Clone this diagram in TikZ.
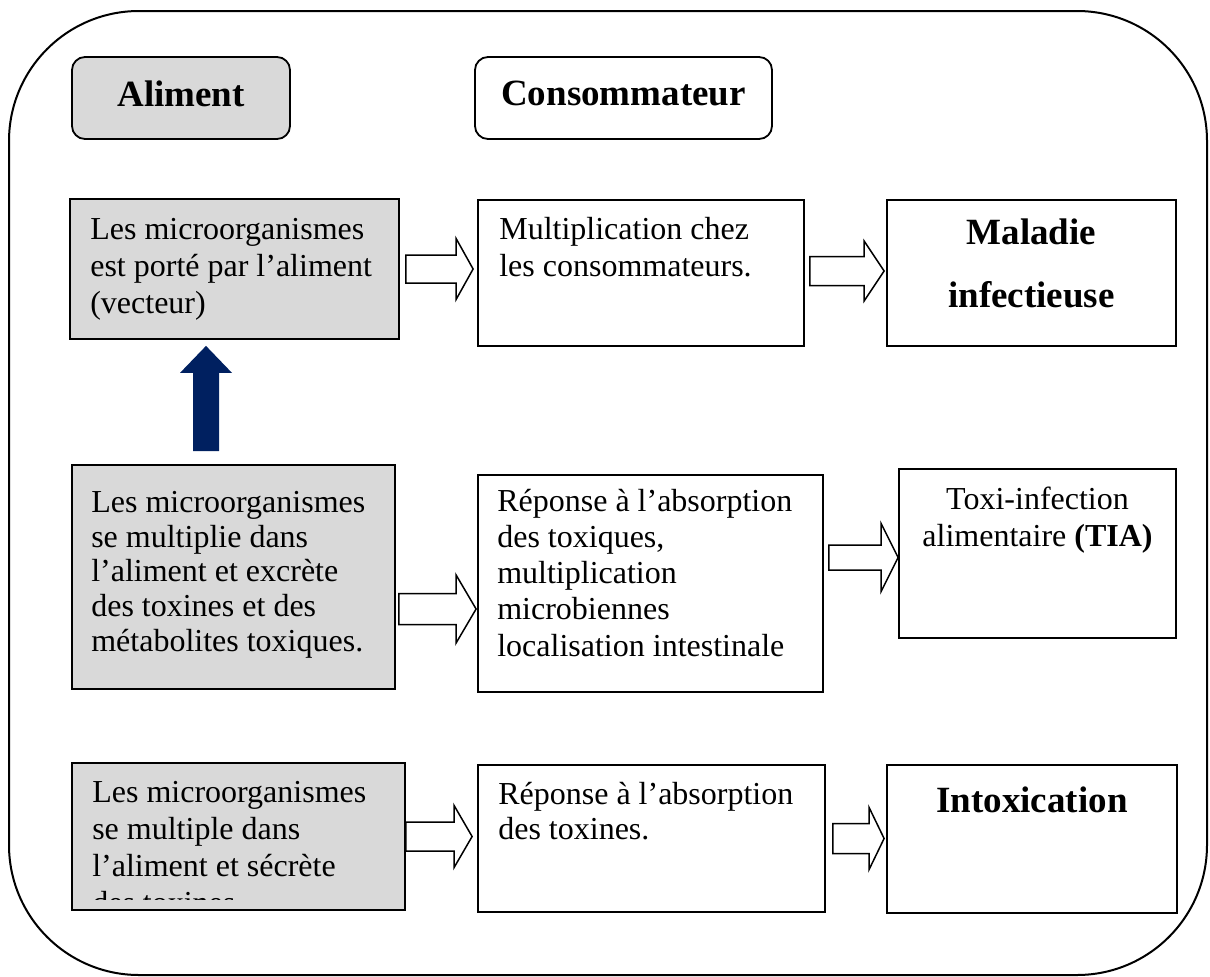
\documentclass[tikz,border=0pt]{standalone}
\usepackage{fontspec}
\setmainfont{Liberation Serif}
\usetikzlibrary{calc}
\definecolor{boxgray}{HTML}{D9D9D9}
\definecolor{navyblue}{HTML}{002060}
\newcommand{\fl}{\rule{0pt}{24pt}}
\newcommand{\blockarrow}[8]{%
  \draw[blockarr] let \p1=($(#1.east)+(#3,#5)$), \p2=($(#2.west)+(-#4,0)$) in
    (\x1,\y1+#6) -- (\x2-#8,\y1+#6) -- (\x2-#8,\y1+#7) -- (\x2,\y1)
    -- (\x2-#8,\y1-#7) -- (\x2-#8,\y1-#6) -- (\x1,\y1-#6) -- cycle;}
\begin{document}
\begin{tikzpicture}[x=1pt,y=-1pt,
  plainbox/.style={draw=black, line width=1.8pt, fill=white, inner sep=0pt, minimum width=#1},
  graybox/.style={plainbox=#1, fill=boxgray},
  headbox/.style={draw=black, line width=1.8pt, rounded corners=13pt, inner sep=0pt,
     minimum width=#1, minimum height=82pt, font=\bfseries\fontsize{37}{40}\selectfont},
  txt/.style={font=\fontsize{32}{37}\selectfont, align=left, inner sep=0pt, anchor=north west},
  bigtxt/.style={font=\bfseries\fontsize{37}{63}\selectfont, align=center, inner sep=0pt},
  blockarr/.style={draw=black, line width=1.5pt, fill=white, line join=miter},
  outer/.style={draw=black, line width=2pt, rounded corners=130pt}
]
\useasboundingbox (0,0) rectangle (1210,977);
\draw[outer] (9,11) rectangle (1207,975);

% header boxes
\node[headbox=218, fill=boxgray, text height=25pt, text depth=9pt] (aliment) at (181,98) {Aliment};
\node[headbox=297, fill=white, text height=25pt, text depth=11pt] (conso) at (623.5,98) {Consommateur};

% row 1
\node[graybox=329, minimum height=140] (a1) at (234.5,269) {};
\node[plainbox=326, minimum height=146] (b1) at (641,273) {};
\node[plainbox=289, minimum height=146] (c1) at (1031.5,273) {};
% row 2
\node[graybox=323, minimum height=224] (a2) at (233.5,577) {};
\node[plainbox=345, minimum height=217] (b2) at (650.5,583.5) {};
\node[plainbox=277, minimum height=169] (c2) at (1037.5,553.5) {};
% row 3
\node[graybox=333, minimum height=147] (a3) at (238.5,836.5) {};
\node[plainbox=347, minimum height=147] (b3) at (651.5,838.5) {};
\node[plainbox=290, minimum height=148] (c3) at (1032,839) {};

% texts
\node[txt] (ta1) at ($(a1.north west)+(21,17)$) {\fl Les microorganismes\\est porté par l’aliment\\(vecteur)};
\node[txt] (tb1) at ($(b1.north west)+(22,16)$) {\fl Multiplication chez\\les consommateurs.};
\node[bigtxt, anchor=north] (tc1) at ($(c1.north)+(0,17)$) {\rule{0pt}{28pt}Maladie\\infectieuse};

\node[txt, font=\fontsize{32}{34.8}\selectfont] (ta2) at ($(a2.north west)+(20,24)$) {\fl Les microorganismes\\se multiplie dans\\l’aliment et excrète\\des toxines et des\\métabolites toxiques.};
\node[txt, font=\fontsize{32}{36.3}\selectfont] (tb2) at ($(b2.north west)+(20,12.7)$) {\fl Réponse à l’absorption\\des toxiques,\\multiplication\\microbiennes\\localisation intestinale};
\node[txt, align=center, anchor=north] (tc2) at ($(c2.north)+(0,17)$) {\fl Toxi-infection\\alimentaire \textbf{(TIA)}};

\begin{scope}
  \clip ($(a3.north west)+(2,2)$) rectangle ($(a3.south east)+(-2,-11)$);
  \node[txt] (ta3) at ($(a3.north west)+(21,16)$) {\fl Les microorganismes\\se multiple dans\\l’aliment et sécrète\\des toxines.};
\end{scope}
\node[txt, font=\fontsize{32}{35}\selectfont] (tb3) at ($(b3.north west)+(21,16)$) {\fl Réponse à l’absorption\\des toxines.};
\node[font=\bfseries\fontsize{37}{40}\selectfont, inner sep=0pt, anchor=base] (tc3) at ($(c3.north)+(0,48)$) {Intoxication};

% block arrows: from, to, start gap, end gap, y offset, shaft half, head half, head length
\blockarrow{a1}{b1}{6}{4}{0}{14}{30.5}{17}
\blockarrow{b1}{c1}{5}{2}{-2}{14.5}{30}{20}
\blockarrow{a2}{b2}{3}{1}{32}{15.5}{34}{20}
\blockarrow{b2}{c2}{5}{0}{-26}{12.5}{34}{17}
\blockarrow{a3}{b3}{0}{5}{0}{14.5}{31}{18}
\blockarrow{b3}{c3}{7}{2}{0}{15}{31}{15}

% blue vertical arrow
\fill[navyblue] let \p1=($(a1.south)+(-28.5,6)$), \p2=($(a2.north)+(0,-13)$) in
  (\x1,\y1) -- (\x1+26,\y1-27) -- (\x1+13,\y1-27) -- (\x1+13,\y2)
  -- (\x1-13,\y2) -- (\x1-13,\y1-27) -- (\x1-26,\y1-27) -- cycle;
\end{tikzpicture}
\end{document}
